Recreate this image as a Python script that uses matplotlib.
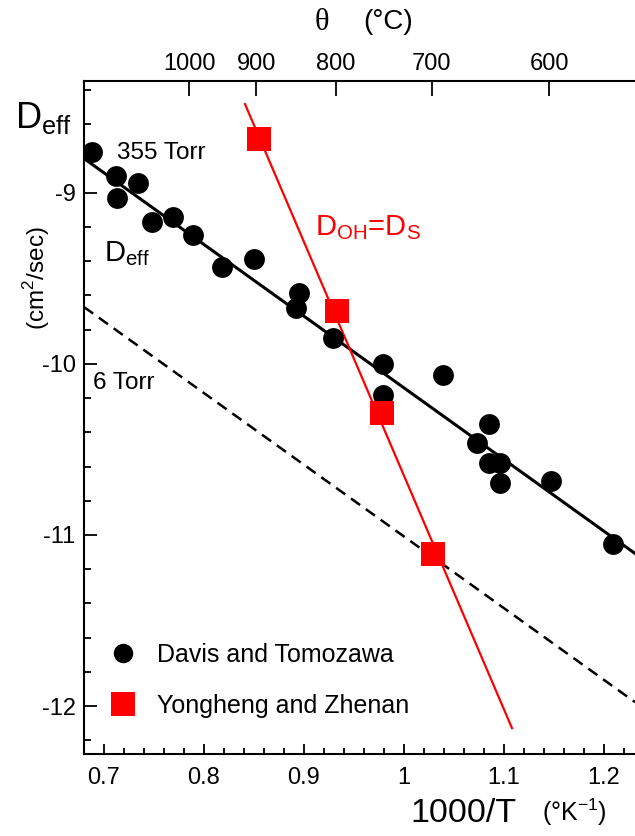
import matplotlib
matplotlib.use('Agg')
import matplotlib.pyplot as plt
from matplotlib.lines import Line2D
from matplotlib.ticker import MultipleLocator

plt.rcParams['font.family'] = ['Liberation Sans', 'DejaVu Sans']
plt.rcParams['mathtext.fontset'] = 'custom'
plt.rcParams['mathtext.rm'] = 'Liberation Sans'
plt.rcParams['axes.unicode_minus'] = False

# Davis and Tomozawa: log Deff vs 1000/T
davis_x = [0.688, 0.712, 0.734, 0.713, 0.748, 0.769, 0.789, 0.818, 0.850,
           0.895, 0.892, 0.929, 0.979, 1.039, 0.979, 1.085, 1.073, 1.085,
           1.096, 1.096, 1.147, 1.209]
davis_y = [-8.76, -8.90, -8.945, -9.033, -9.17, -9.144, -9.247, -9.433, -9.39,
           -9.588, -9.676, -9.851, -9.998, -10.066, -10.183, -10.349, -10.462,
           -10.582, -10.582, -10.699, -10.684, -11.05]

# Yongheng and Zhenan
yong_x = [0.855, 0.933, 0.978, 1.029]
yong_y = [-8.688, -9.69, -10.287, -11.113]

# fitted lines, end points
fit355_x = [0.68, 1.231]
fit355_y = [-8.80, -11.108]
fit6_x = [0.68, 1.231]
fit6_y = [-9.668, -11.977]
doh_x = [0.841, 1.108]
doh_y = [-8.482, -12.129]

# top axis temperatures (deg C)
temps_c = [1000, 900, 800, 700, 600]

xticks = [0.7, 0.8, 0.9, 1.0, 1.1, 1.2]
xticklabels = ['0.7', '0.8', '0.9', '1', '1.1', '1.2']
yticks = [-9, -10, -11, -12]

W, H = 635, 836
fig = plt.figure(figsize=(W / 100, H / 100), dpi=100)
ax = fig.add_axes([84 / W, 1 - 754 / H, 1 - 84 / W, (754 - 81) / H])

ax.plot(fit355_x, fit355_y, color='black', lw=2.2, zorder=2)
ax.plot(fit6_x, fit6_y, color='black', lw=1.8, linestyle=(0, (4.5, 2.8)), zorder=2)
ax.plot(doh_x, doh_y, color='#ff0000', lw=1.6, zorder=2)
ax.plot(davis_x, davis_y, 'o', color='black', ms=15, mew=0, zorder=3)
ax.plot(yong_x, yong_y, 's', color='#ff0000', ms=17.5, mew=0, zorder=4)

ax.set_xlim(0.68, 1.231)
ax.set_ylim(-12.28, -8.347)

ax.set_xticks(xticks)
ax.set_xticklabels(xticklabels)
ax.xaxis.set_minor_locator(MultipleLocator(0.02))
ax.set_yticks(yticks)
ax.set_yticklabels([str(v) for v in yticks])
ax.yaxis.set_minor_locator(MultipleLocator(0.2))

ax.tick_params(axis='both', which='both', direction='in', labelsize=17, width=1.3)
ax.tick_params(axis='x', which='major', length=7, pad=9)
ax.tick_params(axis='x', which='minor', length=4)
ax.tick_params(axis='y', which='major', length=9, pad=6)
ax.tick_params(axis='y', which='minor', length=5)
ax.spines['right'].set_visible(False)
ax.spines['top'].set_visible(False)
for s in ['left', 'bottom']:
    ax.spines[s].set_linewidth(1.5)

# top axis in deg C
ax2 = ax.twiny()
ax2.set_xlim(ax.get_xlim())
ax2.set_xticks([1000 / (t + 273.15) for t in temps_c])
ax2.set_xticklabels([str(t) for t in temps_c])
ax2.tick_params(axis='x', direction='in', length=11, width=1.3, labelsize=17, pad=4)
for s in ['right', 'left', 'bottom']:
    ax2.spines[s].set_visible(False)
ax2.spines['top'].set_linewidth(1.5)

# annotations
ax.text(0.713, -8.77, '355 Torr', fontsize=17.5, va='center', ha='left')
ax.text(0.689, -10.11, '6 Torr', fontsize=17.5, va='center', ha='left')
ax.text(0.700, -9.40, r'D$_\mathregular{eff}$', fontsize=21, va='baseline', ha='left')
ax.text(0.911, -9.247, r'D$_\mathregular{OH}$=D$_\mathregular{S}$', fontsize=21,
        color='#ff0000', va='baseline', ha='left')

fig.text(15 / W, 1 - 128 / H, r'D$_\mathregular{eff}$', fontsize=26, va='baseline', ha='left')
fig.text(37 / W, 1 - 278 / H, r'(cm$^\mathregular{2}$/sec)', fontsize=17.5, rotation=90,
         va='center', ha='center')
fig.text(322 / W, 1 - 22 / H, '\u03b8', family='Liberation Serif', fontsize=22,
         va='center', ha='center')
fig.text(363 / W, 1 - 22 / H, '(\u00b0C)', fontsize=20, va='center', ha='left')
fig.text(410 / W, 1 - 813 / H, '1000/T', fontsize=24.5, va='center', ha='left')
fig.text(542 / W, 1 - 812 / H, r'(°K$^\mathregular{-1}$)', fontsize=18, va='center', ha='left')

handles = [Line2D([], [], marker='o', color='black', ls='none', ms=14, mew=0),
           Line2D([], [], marker='s', color='#ff0000', ls='none', ms=17.5, mew=0)]
ax.legend(handles, ['Davis and Tomozawa', 'Yongheng and Zhenan'], frameon=False,
          fontsize=18, loc='lower left', bbox_to_anchor=(0.036, 0.054),
          borderaxespad=0, borderpad=0, handletextpad=0.62, labelspacing=1.06,
          handlelength=1.5)

fig.savefig('out.png', dpi=100)
